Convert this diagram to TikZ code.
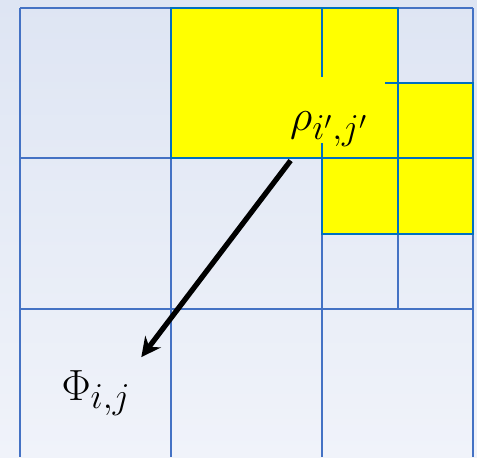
\documentclass[tikz,border=0pt]{standalone}
\usepackage{amsmath}
\usepackage{amssymb}
\usepackage{tikz}
\usetikzlibrary{arrows.meta}

\definecolor{gridblue}{RGB}{68,114,196}
\definecolor{cellblue}{RGB}{0,112,192}
\definecolor{cellyellow}{RGB}{255,255,0}
\definecolor{bgtop}{RGB}{222,229,243}
\definecolor{bgbottom}{RGB}{240,243,250}

\begin{document}
\begin{tikzpicture}[x=0.02cm,y=-0.02cm,>=Stealth,
    gridline/.style={draw=gridblue,line width=1.5pt},
    cell/.style={fill=cellyellow,draw=cellblue,line width=1.5pt},
    symb/.style={font=\fontsize{29}{34}\selectfont}]
            \shade[top color=bgtop,bottom color=bgbottom] (0,0) rectangle (477,457);
            \useasboundingbox (0,0) rectangle (477,457);

            % coarse grid and the finer split on the right
            \foreach \x in {20,171,322,473}
                \draw[gridline] (\x,8) -- (\x,457);
            \draw[gridline] (398,8) -- (398,309);
            \foreach \y in {8,158,309}
                \draw[gridline] (20,\y) -- (473,\y);
            \foreach \y in {83,234}
                \draw[gridline] (322,\y) -- (473,\y);

            % source cells
            \foreach \xa/\ya/\xb/\yb in {171/8/322/158,322/8/398/83,322/83/398/158,
                                         398/83/473/158,322/158/398/234,398/158/473/234}
                \draw[cell] (\xa,\ya) rectangle (\xb,\yb);

            \node[symb,fill=cellyellow,inner sep=0pt,text height=1.06cm,text depth=0.26cm,
                  minimum width=2.24cm,anchor=base] (rho) at (329,130) {$\rho_{i',j'}$};
            \node[symb,inner sep=2pt,anchor=base] (phi) at (96,400) {$\Phi_{i,j}$};

            \draw[line width=3pt,shorten <=1.27cm,shorten >=0.23cm,
                  -{Stealth[length=11pt,width=11pt]}] (rho.center) -- (phi.north east);
        \end{tikzpicture}
\end{document}
